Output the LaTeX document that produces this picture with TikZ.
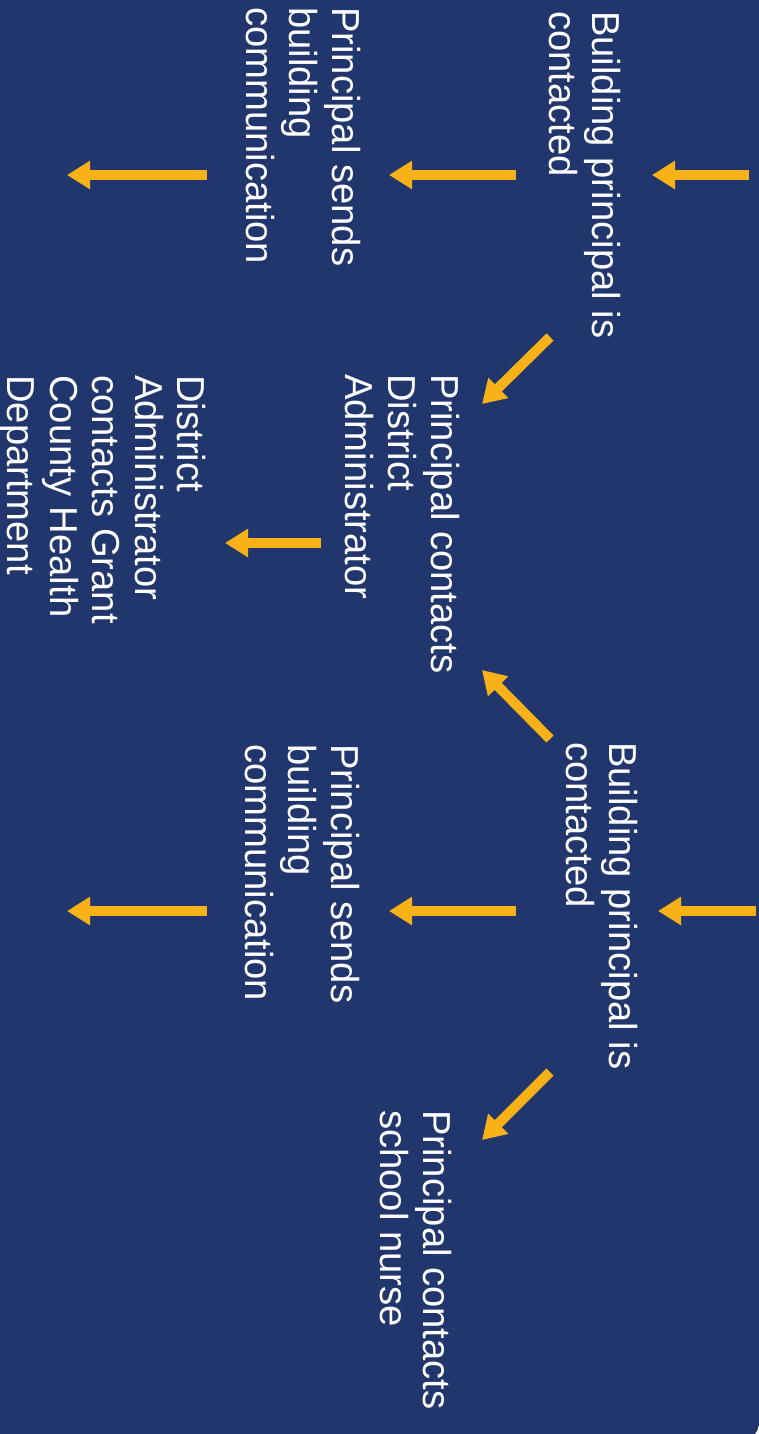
\documentclass[tikz,border=0pt]{standalone}
\usepackage{fontspec}
\setmainfont{Liberation Sans}[FakeStretch=0.98]
\usetikzlibrary{arrows.meta}
\definecolor{bgnavy}{HTML}{22366E}
\definecolor{arrowgold}{HTML}{F8B116}
\begin{document}
\begin{tikzpicture}[x=1pt,y=-1pt,
  lbl/.style={text=white,align=left,rotate=-90,anchor=north west,inner sep=0pt,
    font=\fontsize{39}{43}\selectfont},
  lbltight/.style={lbl,font=\fontsize{39}{42.5}\selectfont},
  garrow/.style={draw=arrowgold,line width=10pt,-{Triangle[length=23pt,width=27pt]}}]
\useasboundingbox (0,0) rectangle (759,1434);
\fill[white] (0,0) rectangle (759,1434);
\fill[bgnavy] (0,0) -- (759,0) -- (759,1424) .. controls (758,1429) .. (755,1434) -- (0,1434) -- cycle;

% text nodes
\node[lbl] (b1) at (621,11) {Building principal is\\contacted};
\node[lbl] (s1) at (361,7) {Principal sends\\building\\communication};
\node[lbl] (d1) at (460,374) {Principal contacts\\District\\Administrator};
\node[lbltight] (g1) at (206,375) {District\\Administrator\\contacts Grant\\County Health\\Department};
\node[lbl] (b2) at (638,742) {Building principal is\\contacted};
\node[lbl] (s2) at (360,744) {Principal sends\\building\\communication};
\node[lbl] (n2) at (452,1110) {Principal contacts\\school nurse};

% arrow end points
\coordinate (a1s) at (749,175); \coordinate (a1e) at (652,175);
\coordinate (a2s) at (516,175); \coordinate (a2e) at (389,175);
\coordinate (a3s) at (207,175); \coordinate (a3e) at (67,175);
\coordinate (a4s) at (550,337); \coordinate (a4e) at (482,404);
\coordinate (a5s) at (321,543); \coordinate (a5e) at (225,543);
\coordinate (a6s) at (550,739); \coordinate (a6e) at (482,670);
\coordinate (a7s) at (756,911); \coordinate (a7e) at (658,911);
\coordinate (a8s) at (516,911); \coordinate (a8e) at (389,911);
\coordinate (a9s) at (207,911); \coordinate (a9e) at (67,911);
\coordinate (a10s) at (550,1072); \coordinate (a10e) at (482,1140);

\draw[garrow] (a1s) -- (a1e);
\draw[garrow] (a2s) -- (a2e);
\draw[garrow] (a3s) -- (a3e);
\draw[garrow] (a4s) -- (a4e);
\draw[garrow] (a5s) -- (a5e);
\draw[garrow] (a6s) -- (a6e);
\draw[garrow] (a7s) -- (a7e);
\draw[garrow] (a8s) -- (a8e);
\draw[garrow] (a9s) -- (a9e);
\draw[garrow] (a10s) -- (a10e);
\end{tikzpicture}
\end{document}
